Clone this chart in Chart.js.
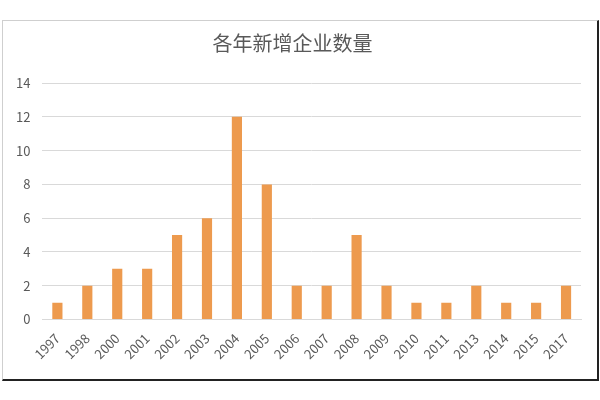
<!DOCTYPE html>
<html lang="zh">
<head>
<meta charset="UTF-8" />
<title>各年新增企业数量</title>
<script src="https://cdn.jsdelivr.net/npm/chart.js"></script>
<style>
  html, body { margin: 0; padding: 0; background: #fff; }
  .frame {
    position: absolute;
    left: 2px; top: 20px;
    width: 594px; height: 358px;
    border-top: 1px solid #cfcfcf;
    border-left: 1px solid #cfcfcf;
    border-right: 2px solid #222;
    border-bottom: 2px solid #222;
    background: #fff;
  }
</style>
</head>
<body>
<div class="frame"><canvas id="chart"></canvas></div>
<script>
  // 年份 / 新增企业数
  const years = ['1997','1998','2000','2001','2002','2003','2004','2005','2006',
                 '2007','2008','2009','2010','2011','2013','2014','2015','2017'];
  const counts = [1, 2, 3, 3, 5, 6, 12, 8, 2, 2, 5, 2, 1, 1, 2, 1, 1, 2];
  const chartTitle = '各年新增企业数量';

  const font = '"Noto Sans CJK SC", "Noto Sans", sans-serif';

  new Chart(document.getElementById('chart').getContext('2d'), {
    type: 'bar',
    data: {
      labels: years,
      datasets: [{
        data: counts,
        backgroundColor: '#ED9A4E',
        barPercentage: 0.34,
        categoryPercentage: 1
      }]
    },
    options: {
      responsive: true,
      maintainAspectRatio: false,
      animation: false,
      layout: { padding: { left: 1, right: 16, top: 6, bottom: 14 } },
      plugins: {
        legend: { display: false },
        tooltip: { enabled: false },
        title: {
          display: true,
          text: chartTitle,
          color: '#595959',
          font: { family: font, size: 20, weight: 'normal' },
          padding: { top: 4, bottom: 28 }
        }
      },
      scales: {
        x: {
          grid: { display: false },
          border: { color: '#d9d9d9' },
          ticks: {
            color: '#595959',
            font: { family: font, size: 13 },
            minRotation: 45,
            maxRotation: 45,
            autoSkip: false
          }
        },
        y: {
          min: 0,
          max: 14,
          grid: { color: '#d9d9d9', drawTicks: false },
          border: { display: false },
          ticks: {
            stepSize: 2,
            padding: 12,
            color: '#595959',
            font: { family: font, size: 13 }
          }
        }
      }
    }
  });
</script>
</body>
</html>
